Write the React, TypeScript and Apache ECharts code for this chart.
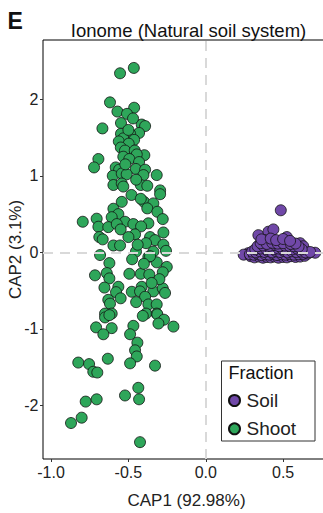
import React, { useEffect, useRef } from "react";
import * as echarts from "echarts";

const FONT = "Liberation Sans, Arial, Helvetica, sans-serif";

const xTicks = [-1.0, -0.5, 0.0, 0.5];
const yTicks = [-2, -1, 0, 1, 2];
const fractions = ["Soil", "Shoot"];
const xAxisTitle = "CAP1 (92.98%)";
const yAxisTitle = "CAP2 (3.1%)";
const chartTitle = "Ionome (Natural soil system)";
const panelTag = "E";

const soilPoints: number[][] = [
  [0.485, 0.55], [0.34, 0.225], [0.405, 0.27], [0.437, 0.3], [0.524, 0.2], [0.383, 0.16],
  [0.48, 0.14], [0.61, 0.12], [0.63, 0.08], [0.707, -0.005], [0.275, -0.01], [0.245, -0.03],
  [0.29, -0.05], [0.315, -0.065], [0.345, -0.055], [0.37, -0.07], [0.395, -0.06], [0.42, -0.065],
  [0.445, -0.055], [0.47, -0.07], [0.5, -0.06], [0.525, -0.065], [0.55, -0.05], [0.58, -0.06],
  [0.61, -0.055], [0.64, -0.045],
  [0.285, -0.025], [0.31, -0.03], [0.335, -0.02], [0.36, -0.035], [0.385, -0.025], [0.41, -0.03],
  [0.435, -0.02], [0.46, -0.035], [0.49, -0.025], [0.515, -0.03], [0.54, -0.02], [0.57, -0.03],
  [0.6, -0.025], [0.63, -0.02], [0.66, -0.015],
  [0.3, 0.01], [0.325, 0.0], [0.35, 0.015], [0.38, 0.005], [0.4, 0.02], [0.43, 0.0], [0.455, 0.015],
  [0.48, 0.005], [0.505, 0.02], [0.53, 0.0], [0.555, 0.015], [0.585, 0.005], [0.615, 0.01],
  [0.645, 0.0], [0.675, 0.005],
  [0.32, 0.04], [0.355, 0.05], [0.39, 0.045], [0.415, 0.055], [0.44, 0.04], [0.47, 0.05],
  [0.495, 0.045], [0.52, 0.055], [0.56, 0.04], [0.59, 0.05], [0.62, 0.04],
  [0.335, 0.08], [0.37, 0.09], [0.41, 0.085], [0.45, 0.095], [0.475, 0.08], [0.51, 0.09],
  [0.54, 0.085], [0.57, 0.08], [0.6, 0.075],
  [0.355, 0.12], [0.395, 0.11], [0.43, 0.125], [0.465, 0.115], [0.5, 0.12], [0.55, 0.11], [0.58, 0.115],
  [0.36, 0.17], [0.42, 0.18], [0.455, 0.16], [0.5, 0.175], [0.545, 0.15],
];

const shootPoints: number[][] = [
  [-0.554, 2.34], [-0.465, 2.41], [-0.619, 1.96], [-0.463, 1.89], [-0.571, 1.84], [-0.509, 1.81],
  [-0.548, 1.69], [-0.668, 1.62], [-0.414, 1.67], [-0.392, 1.65], [-0.431, 1.56], [-0.489, 1.55],
  [-0.548, 1.55], [-0.533, 1.49], [-0.463, 1.47], [-0.562, 1.45], [-0.498, 1.42], [-0.549, 1.37],
  [-0.522, 1.33], [-0.459, 1.33], [-0.533, 1.25], [-0.397, 1.27], [-0.446, 1.28], [-0.494, 1.22],
  [-0.431, 1.18], [-0.694, 1.22], [-0.722, 1.11], [-0.582, 1.11], [-0.56, 1.08], [-0.452, 1.09],
  [-0.392, 1.08], [-0.317, 1.01], [-0.601, 1.0], [-0.543, 1.03], [-0.511, 1.02], [-0.403, 1.01],
  [-0.597, 0.88], [-0.543, 0.9], [-0.42, 0.88], [-0.378, 0.87], [-0.295, 0.81], [-0.533, 0.86],
  [-0.295, 0.76], [-0.543, 0.66], [-0.399, 0.66], [-0.339, 0.64], [-0.597, 0.57], [-0.378, 0.575],
  [-0.313, 0.53], [-0.565, 0.5], [-0.795, 0.4], [-0.705, 0.44], [-0.608, 0.46], [-0.522, 0.4],
  [-0.468, 0.37], [-0.371, 0.38], [-0.278, 0.435], [-0.694, 0.335], [-0.63, 0.33], [-0.575, 0.37],
  [-0.418, 0.34], [-0.274, 0.26], [-0.457, 0.235], [-0.36, 0.2], [-0.688, 0.2], [-0.666, 0.17],
  [-0.328, 0.16], [-0.597, 0.09], [-0.554, 0.09], [-0.386, 0.12], [-0.274, 0.1], [-0.451, 0.01],
  [-0.476, -0.09], [-0.339, 0.01], [-0.257, 0.02], [-0.683, -0.035], [-0.371, -0.06], [-0.317, -0.13],
  [-0.623, -0.14], [-0.252, -0.19], [-0.716, -0.3], [-0.64, -0.27], [-0.494, -0.28], [-0.42, -0.28],
  [-0.365, -0.29], [-0.278, -0.26], [-0.623, -0.34], [-0.655, -0.46], [-0.565, -0.45], [-0.58, -0.52],
  [-0.478, -0.515], [-0.414, -0.45], [-0.425, -0.51], [-0.339, -0.51], [-0.278, -0.47], [-0.263, -0.53],
  [-0.392, -0.58], [-0.63, -0.62], [-0.619, -0.67], [-0.371, -0.68], [-0.317, -0.68], [-0.651, -0.8],
  [-0.608, -0.8], [-0.386, -0.8], [-0.317, -0.8], [-0.651, -0.85], [-0.623, -0.82], [-0.407, -0.83],
  [-0.313, -0.81], [-0.27, -0.88], [-0.306, -0.93], [-0.209, -0.97], [-0.709, -0.98], [-0.608, -0.99],
  [-0.662, -1.07], [-0.468, -0.96], [-0.489, -1.07], [-0.442, -1.18], [-0.457, -1.28], [-0.446, -1.36],
  [-0.633, -1.39], [-0.824, -1.44], [-0.754, -1.46], [-0.489, -1.45], [-0.328, -1.48], [-0.727, -1.56],
  [-0.701, -1.57], [-0.436, -1.77], [-0.522, -1.87], [-0.431, -1.92], [-0.776, -1.95], [-0.705, -1.92],
  [-0.802, -2.16], [-0.871, -2.23], [-0.425, -2.48],
  [-0.5, 1.6], [-0.47, 1.75], [-0.52, 1.15], [-0.45, 0.95], [-0.48, 0.75], [-0.42, 0.7],
  [-0.55, 0.3], [-0.5, 0.2], [-0.44, 0.1], [-0.36, -0.05], [-0.4, -0.15], [-0.3, -0.35],
  [-0.35, -0.4], [-0.55, -0.6], [-0.45, -0.65],
];

export default function App() {
  const ref = useRef<HTMLDivElement>(null);

  useEffect(() => {
    document.body.style.margin = "0";
    const chart = echarts.init(ref.current!, null, { renderer: "svg" });
    const tickLabel = { fontSize: 16, fontFamily: FONT, color: "#222" };
    chart.setOption({
      animation: false,
      backgroundColor: "#ffffff",
      grid: {
        left: 43,
        top: 40,
        right: 5,
        bottom: 54,
        show: true,
        borderColor: "#000",
        borderWidth: 1,
        backgroundColor: "transparent",
        containLabel: false,
        outerBoundsMode: "none",
      },
      xAxis: {
        type: "value",
        min: -1.052,
        max: 0.803,
        name: xAxisTitle,
        nameLocation: "middle",
        nameGap: 32.5,
        nameMoveOverlap: false,
        nameTextStyle: { fontSize: 17, fontFamily: FONT, color: "#222" },
        axisLine: { show: false, onZero: false },
        splitLine: { show: false },
        axisTick: { show: true, length: 3, customValues: xTicks, lineStyle: { color: "#333", width: 1 } },
        axisLabel: {
          ...tickLabel,
          margin: 5.5,
          customValues: xTicks,
          formatter: (v: number) => v.toFixed(1),
        },
      },
      yAxis: {
        type: "value",
        min: -2.7,
        max: 2.775,
        name: yAxisTitle,
        nameLocation: "middle",
        nameGap: 18.8,
        nameMoveOverlap: false,
        nameTextStyle: { fontSize: 17, fontFamily: FONT, color: "#222" },
        axisLine: { show: false, onZero: false },
        splitLine: { show: false },
        axisTick: { show: true, length: 3, customValues: yTicks, lineStyle: { color: "#333", width: 1 } },
        axisLabel: {
          ...tickLabel,
          margin: 4.5,
          customValues: yTicks,
          formatter: (v: number) => String(Math.round(v)),
        },
      },
      legend: {
        data: fractions,
        orient: "vertical",
        left: 228,
        top: 391,
        padding: 0,
        itemWidth: 14,
        itemHeight: 11,
        itemGap: 9.3,
        icon: "circle",
        z: 10,
        textStyle: { fontSize: 19, fontFamily: FONT, color: "#222", lineHeight: 19 },
      },
      graphic: [
        {
          type: "text",
          x: 7.5,
          y: 21,
          style: {
            text: panelTag,
            font: "bold 23px " + FONT,
            fill: "#111",
            textAlign: "left",
            textVerticalAlign: "middle",
          },
        },
        {
          type: "text",
          x: 188.5,
          y: 30.5,
          style: {
            text: chartTitle,
            font: "18.5px " + FONT,
            fill: "#111",
            textAlign: "center",
            textVerticalAlign: "middle",
          },
        },
        {
          type: "rect",
          z: 5,
          shape: { x: 221.5, y: 361, width: 93.5, height: 80 },
          style: { fill: "#ffffff", stroke: "#333", lineWidth: 1 },
        },
        {
          type: "text",
          z: 6,
          x: 228.6,
          y: 372.5,
          style: {
            text: "Fraction",
            font: "18px " + FONT,
            fill: "#111",
            textAlign: "left",
            textVerticalAlign: "middle",
          },
        },
      ],
      series: [
        {
          type: "scatter",
          name: "zero-lines",
          data: [],
          silent: true,
          z: 1,
          markLine: {
            silent: true,
            symbol: "none",
            label: { show: false },
            lineStyle: { color: "#d9d9d9", width: 2, type: [10, 7] },
            data: [{ xAxis: 0 }, { yAxis: 0 }],
          },
        },
        {
          type: "scatter",
          name: fractions[0],
          data: soilPoints,
          symbolSize: 11,
          z: 3,
          itemStyle: { color: "#7048a8", borderColor: "#111", borderWidth: 0.8, opacity: 1 },
        },
        {
          type: "scatter",
          name: fractions[1],
          data: shootPoints,
          symbolSize: 11,
          z: 3,
          itemStyle: { color: "#2ea65a", borderColor: "#111", borderWidth: 0.8, opacity: 1 },
        },
      ],
    });
    return () => chart.dispose();
  }, []);

  return (
    <div
      style={{
        position: "fixed",
        left: 0,
        top: 0,
        width: 323,
        height: 513,
        overflow: "hidden",
        background: "#fff",
      }}
    >
      <div ref={ref} style={{ width: 335, height: 513 }} />
    </div>
  );
}
